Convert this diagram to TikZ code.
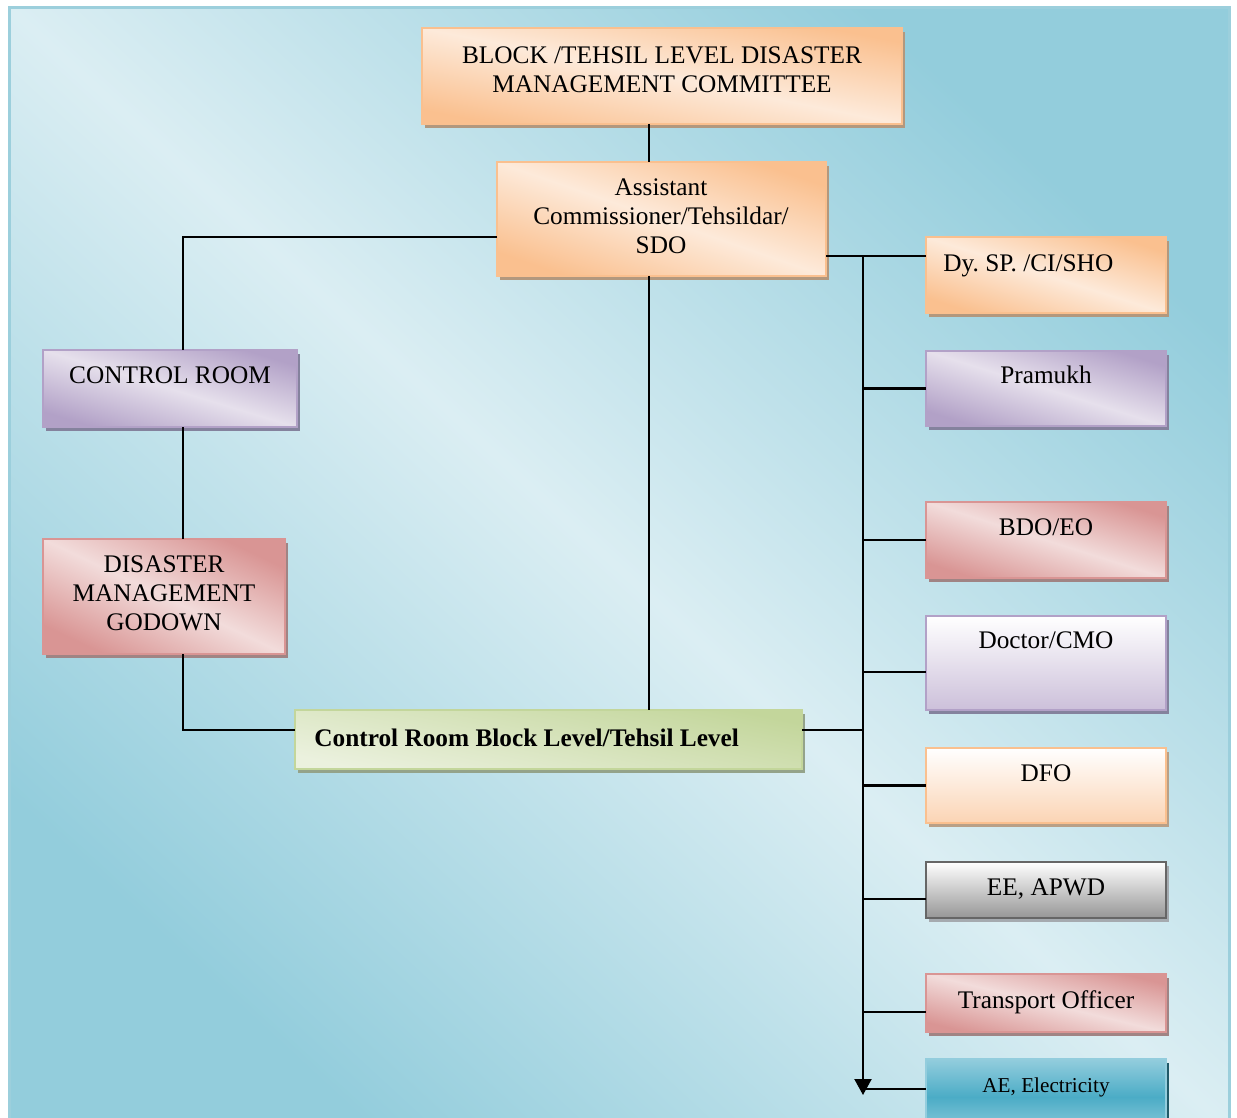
\documentclass[tikz,border=0pt]{standalone}
\usepackage{fontspec}
\setmainfont{Liberation Serif}
\usetikzlibrary{arrows.meta,shadows}
\frenchspacing

% palette
\definecolor{bgDark}{HTML}{93CDDC}
\definecolor{bgLight}{HTML}{DBEEF3}
\definecolor{bgBorder}{HTML}{9CCFDC}
\definecolor{orDark}{HTML}{FAC08F}
\definecolor{orLight}{HTML}{FDEADA}
\definecolor{orShadow}{HTML}{B2987E}
\definecolor{puDark}{HTML}{B2A1C7}
\definecolor{puLight}{HTML}{E6E0EC}
\definecolor{puShadow}{HTML}{84829D}
\definecolor{rdDark}{HTML}{D99594}
\definecolor{rdLight}{HTML}{F2DCDB}
\definecolor{rdShadow}{HTML}{A08484}
\definecolor{grDark}{HTML}{C3D69B}
\definecolor{grLight}{HTML}{EBF1DE}
\definecolor{grShadow}{HTML}{94A38A}
\definecolor{docBottom}{HTML}{CCC0DA}
\definecolor{dfoBottom}{HTML}{FBD4B4}
\definecolor{dfoShadow}{HTML}{B9A087}
\definecolor{eeBottom}{HTML}{969696}
\definecolor{eeBorder}{HTML}{666666}
\definecolor{eeShadow}{HTML}{A5AAAF}
\definecolor{aeLight}{HTML}{93CDDD}
\definecolor{aeDark}{HTML}{4BACC6}
\definecolor{aeShadow}{HTML}{215A69}

\begin{document}
\begin{tikzpicture}[x=0.5pt,y=-0.5pt,
  box/.style={rectangle, inner sep=0pt, outer sep=0pt, line width=1pt},
  shadowed/.style={drop shadow={shadow xshift=1.5pt, shadow yshift=-2pt, fill=#1, opacity=1}},
  % diagonal mirrored gradient: dark corners top-right / bottom-left
  diagfill/.style n args={4}{box, draw=#1, top color=#1, bottom color=#1, middle color=#2,
    shading angle=#3, shadowed=#4},
  vfill/.style n args={4}{box, draw=#1, top color=white, bottom color=#2, shadowed=#4},
  txt/.style={inner sep=0pt, align=center, font=\fontsize{12.65}{14.5}\selectfont},
  link/.style={line width=1.1pt, black}
]
\clip (0,0) rectangle (1237,1118);
\fill[white] (0,0) rectangle (1237,1118);

% backdrop panel
\shade[top color=bgDark, bottom color=bgDark, middle color=bgLight, shading angle=-42.6]
  (9.5,7.5) rectangle (1229.5,1130);
\draw[bgBorder, line width=1.5pt] (9.5,7.5) rectangle (1229.5,1130);

% ---- boxes ----
\node[diagfill={orDark}{orLight}{-11.3}{orShadow}, minimum width=240pt, minimum height=48pt]
  (top) at (662,76) {};
\node[diagfill={orDark}{orLight}{-19.1}{orShadow}, minimum width=164.5pt, minimum height=57pt]
  (asst) at (661.5,219) {};
\node[diagfill={puDark}{puLight}{-16.9}{puShadow}, minimum width=127pt, minimum height=38.5pt]
  (cr) at (170,388.5) {};
\node[diagfill={rdDark}{rdLight}{-25.4}{rdShadow}, minimum width=121pt, minimum height=57.5pt]
  (dmg) at (164,596.5) {};
\node[box, draw=grDark, top color=grDark, bottom color=grLight, shading angle=-12, shadowed=grShadow,
  minimum width=253.5pt, minimum height=29.5pt]
  (crb) at (548.5,739.5) {};

\node[diagfill={orDark}{orLight}{-17.6}{orShadow}, minimum width=120pt, minimum height=38pt]
  (dysp) at (1046,275) {};
\node[diagfill={puDark}{puLight}{-17.4}{puShadow}, minimum width=120pt, minimum height=37.5pt]
  (pram) at (1046,388.5) {};
\node[diagfill={rdDark}{rdLight}{-17.6}{rdShadow}, minimum width=120pt, minimum height=38pt]
  (bdo) at (1046,540) {};
\node[vfill={puDark}{docBottom}{0}{puShadow}, minimum width=120pt, minimum height=47pt]
  (doc) at (1046,663) {};
\node[vfill={orDark}{dfoBottom}{0}{dfoShadow}, minimum width=120pt, minimum height=37.5pt]
  (dfo) at (1046,785.5) {};
\node[vfill={eeBorder}{eeBottom}{0}{eeShadow}, minimum width=120pt, minimum height=28pt]
  (ee) at (1046,890) {};
\node[diagfill={rdDark}{rdLight}{-13.6}{rdShadow}, minimum width=120pt, minimum height=29pt]
  (tro) at (1046,1003) {};
\node[box, draw=aeLight, top color=aeLight, bottom color=aeLight, middle color=aeDark, shadowed=aeShadow,
  minimum width=120pt, minimum height=38pt]
  (ae) at (1046,1097) {};

% ---- labels ----
\node[txt, anchor=north] (top-t) at (662,46) {BLOCK /TEHSIL LEVEL DISASTER\\MANAGEMENT COMMITTEE};
\node[txt, anchor=north] (asst-t) at (661,178) {Assistant\\Commissioner/Tehsildar/\\SDO};
\node[txt, anchor=base] (cr-t) at (170,383) {CONTROL ROOM};
\node[txt, anchor=north] (dmg-t) at (164,555) {DISASTER\\MANAGEMENT\\GODOWN};
\node[txt, anchor=base west, font=\fontsize{12.65}{14.5}\selectfont\bfseries] (crb-t) at (314,746)
  {Control Room Block Level/Tehsil Level};
\node[txt, anchor=base west] (dysp-t) at (943,271) {Dy. SP. /CI/SHO};
\node[txt, anchor=base] (pram-t) at (1046,383) {Pramukh};
\node[txt, anchor=base] (bdo-t) at (1046,535) {BDO/EO};
\node[txt, anchor=base] (doc-t) at (1046,648) {Doctor/CMO};
\node[txt, anchor=base] (dfo-t) at (1046,781) {DFO};
\node[txt, anchor=base] (ee-t) at (1046,895) {EE, APWD};
\node[txt, anchor=base] (tro-t) at (1046,1008) {Transport Officer};
\node[txt, anchor=base, font=\fontsize{10.6}{12.5}\selectfont] (ae-t) at (1046,1092) {AE, Electricity};

% ---- connectors ----
\coordinate (cx) at (649,0);
\coordinate (lj) at (183,237);
\coordinate (lb) at (183,730);
\coordinate (rj) at (863,256);
\coordinate (rend) at (863,1095);

\draw[link] (cx |- top.south) -- (cx |- asst.north);
\draw[link] (cx |- asst.south) -- (cx |- crb.north);
\draw[link] (lj -| asst.west) -- (lj) -- (lj |- cr.north);
\draw[link] (lj |- cr.south) -- (lj |- dmg.north);
\draw[link] (lj |- dmg.south) -- (lb) -- (lb -| crb.west);
\draw[link] (lb -| crb.east) -- (lb -| rj);

\draw[link] (rj -| asst.east) -- (rj -| dysp.west);
\draw[link, -{Triangle[width=8.5pt,length=8pt]}] (rj) -- (rend);
\draw[link] (rj |- pram.west) -- (pram.west);
\draw[link] (rj |- bdo.west) -- (bdo.west);
\coordinate (bdoc) at (863,672);
\draw[link] (bdoc) -- (bdoc -| doc.west);
\draw[link] (rj |- dfo.west) -- (dfo.west);
\coordinate (bee) at (863,899);
\draw[link] (bee) -- (bee -| ee.west);
\coordinate (btro) at (863,1012);
\draw[link] (btro) -- (btro -| tro.west);
\coordinate (bae) at (863,1089);
\draw[link] (bae) -- (bae -| ae.west);
\end{tikzpicture}
\end{document}
